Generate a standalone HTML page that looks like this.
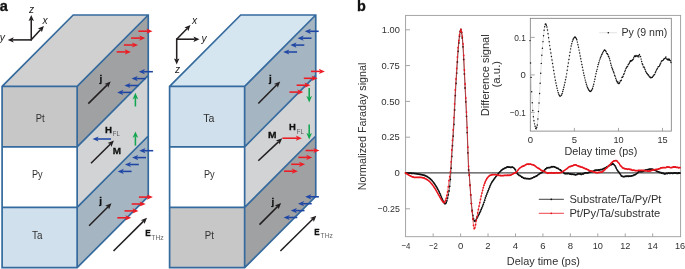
<!DOCTYPE html>
<html lang="en">
<head>
<meta charset="utf-8">
<title>Figure</title>
<style>
html,body{margin:0;padding:0;background:#ffffff;}
body{width:685px;height:269px;overflow:hidden;}
svg{display:block;}
text{font-family:"Liberation Sans",sans-serif;}
</style>
</head>
<body>
<svg width="685" height="269" viewBox="0 0 685 269">
<rect x="0" y="0" width="685" height="269" fill="#ffffff"/>
<g font-family='"Liberation Sans", sans-serif' fill="#303030">
<text x="-0.3" y="11.2" font-size="14" font-weight="bold" stroke="#111" stroke-width="0.3" fill="#111" textLength="8.1" lengthAdjust="spacingAndGlyphs">a</text>
<text x="357" y="11.2" font-size="13.8" font-weight="bold" stroke="#111" stroke-width="0.3" fill="#111" textLength="8.8" lengthAdjust="spacingAndGlyphs">b</text>
<polygon points="2.1,86.4 77.15,86.4 148.25,15 73.2,15" fill="#d0d0d0"/>
<rect x="2.1" y="86.4" width="75.05" height="60.4" fill="#c7c7c7"/>
<polygon points="77.15,86.4 148.25,15 148.25,75.4 77.15,146.8" fill="#a0a1a3"/>
<rect x="2.1" y="146.8" width="75.05" height="60.6" fill="#ffffff"/>
<polygon points="77.15,146.8 148.25,75.4 148.25,136 77.15,207.4" fill="#d1d3d4"/>
<rect x="2.1" y="207.4" width="75.05" height="60.3" fill="#d0e0ed"/>
<polygon points="77.15,207.4 148.25,136 148.25,196.3 77.15,267.7" fill="#a5b5c1"/>
<path d="M2.1,86.4 L73.2,15 L148.25,15 L148.25,196.3 L77.15,267.7 L2.1,267.7 Z M2.1,86.4 L77.15,86.4 L77.15,267.7 M77.15,86.4 L148.25,15 M2.1,146.8 L77.15,146.8 L148.25,75.4 M2.1,207.4 L77.15,207.4 L148.25,136" fill="none" stroke="#346a9e" stroke-width="1.7" stroke-linejoin="miter"/>
<polygon points="169.6,86.4 244.65,86.4 315.75,15 240.7,15" fill="#d5e6f1"/>
<rect x="169.6" y="86.4" width="75.05" height="60.4" fill="#d0e0ed"/>
<polygon points="244.65,86.4 315.75,15 315.75,75.4 244.65,146.8" fill="#a5b5c1"/>
<rect x="169.6" y="146.8" width="75.05" height="60.6" fill="#ffffff"/>
<polygon points="244.65,146.8 315.75,75.4 315.75,136 244.65,207.4" fill="#d1d3d4"/>
<rect x="169.6" y="207.4" width="75.05" height="60.3" fill="#c7c7c7"/>
<polygon points="244.65,207.4 315.75,136 315.75,196.3 244.65,267.7" fill="#a0a1a3"/>
<path d="M169.6,86.4 L240.7,15 L315.75,15 L315.75,196.3 L244.65,267.7 L169.6,267.7 Z M169.6,86.4 L244.65,86.4 L244.65,267.7 M244.65,86.4 L315.75,15 M169.6,146.8 L244.65,146.8 L315.75,75.4 M169.6,207.4 L244.65,207.4 L315.75,136" fill="none" stroke="#346a9e" stroke-width="1.7" stroke-linejoin="miter"/>
<text x="35.7" y="122.1" font-size="10.8" textLength="8.9" lengthAdjust="spacingAndGlyphs">Pt</text>
<text x="31.9" y="177.8" font-size="10.8" textLength="10.7" lengthAdjust="spacingAndGlyphs">Py</text>
<text x="32" y="238.7" font-size="10.8" textLength="10.4" lengthAdjust="spacingAndGlyphs">Ta</text>
<text x="203.2" y="122.3" font-size="10.8" textLength="11.2" lengthAdjust="spacingAndGlyphs">Ta</text>
<text x="203.9" y="177.8" font-size="10.8" textLength="10.7" lengthAdjust="spacingAndGlyphs">Py</text>
<text x="204.8" y="238.8" font-size="10.8" textLength="9.1" lengthAdjust="spacingAndGlyphs">Pt</text>
<line x1="31.25" y1="40.5" x2="31.25" y2="19.7" stroke="#231f20" stroke-width="1.55"/><polygon points="31.25,14.9 33.95,20.9 31.25,19.7 28.55,20.9" fill="#231f20"/>
<line x1="31.7" y1="39.9" x2="12.5" y2="39.9" stroke="#231f20" stroke-width="1.55"/><polygon points="7.7,39.9 13.7,37.2 12.5,39.9 13.7,42.6" fill="#231f20"/>
<line x1="31" y1="40.1" x2="40.66" y2="29.54" stroke="#231f20" stroke-width="1.55"/><polygon points="43.9,26 41.84,32.25 40.66,29.54 37.86,28.6" fill="#231f20"/>
<text x="29" y="13" font-size="10.3" font-style="italic" fill="#222">z</text>
<text x="42.4" y="23.8" font-size="10.3" font-style="italic" fill="#222">x</text>
<text x="-0.3" y="41" font-size="10.3" font-style="italic" fill="#222">y</text>
<line x1="176.7" y1="38.6" x2="176.7" y2="59.6" stroke="#231f20" stroke-width="1.55"/><polygon points="176.7,64.4 174,58.4 176.7,59.6 179.4,58.4" fill="#231f20"/>
<line x1="176.2" y1="39.2" x2="194.7" y2="39.2" stroke="#231f20" stroke-width="1.55"/><polygon points="199.5,39.2 193.5,41.9 194.7,39.2 193.5,36.5" fill="#231f20"/>
<line x1="176.4" y1="39.5" x2="187.15" y2="28.44" stroke="#231f20" stroke-width="1.55"/><polygon points="190.5,25 188.25,31.18 187.15,28.44 184.38,27.42" fill="#231f20"/>
<text x="191.9" y="23.7" font-size="10.3" font-style="italic" fill="#222">x</text>
<text x="201.6" y="41.6" font-size="10.3" font-style="italic" fill="#222">y</text>
<text x="175" y="72.8" font-size="10.3" font-style="italic" fill="#222">z</text>
<line x1="138.3" y1="31.2" x2="147.9" y2="31.2" stroke="#ed1c24" stroke-width="1.55"/><polygon points="152.5,31.2 146.4,33.8 147.9,31.2 146.4,28.6" fill="#ed1c24"/>
<line x1="131.1" y1="38.1" x2="140.7" y2="38.1" stroke="#ed1c24" stroke-width="1.55"/><polygon points="145.3,38.1 139.2,40.7 140.7,38.1 139.2,35.5" fill="#ed1c24"/>
<line x1="123.9" y1="45" x2="133.5" y2="45" stroke="#ed1c24" stroke-width="1.55"/><polygon points="138.1,45 132,47.6 133.5,45 132,42.4" fill="#ed1c24"/>
<line x1="116.7" y1="51.9" x2="126.3" y2="51.9" stroke="#ed1c24" stroke-width="1.55"/><polygon points="130.9,51.9 124.8,54.5 126.3,51.9 124.8,49.3" fill="#ed1c24"/>
<line x1="152.9" y1="71.7" x2="143.4" y2="71.7" stroke="#1f46a5" stroke-width="1.55"/><polygon points="138.8,71.7 144.9,69.1 143.4,71.7 144.9,74.3" fill="#1f46a5"/>
<line x1="145.7" y1="78.6" x2="136.2" y2="78.6" stroke="#1f46a5" stroke-width="1.55"/><polygon points="131.6,78.6 137.7,76 136.2,78.6 137.7,81.2" fill="#1f46a5"/>
<line x1="138.5" y1="85.5" x2="129" y2="85.5" stroke="#1f46a5" stroke-width="1.55"/><polygon points="124.4,85.5 130.5,82.9 129,85.5 130.5,88.1" fill="#1f46a5"/>
<line x1="131.3" y1="92.4" x2="121.8" y2="92.4" stroke="#1f46a5" stroke-width="1.55"/><polygon points="117.2,92.4 123.3,89.8 121.8,92.4 123.3,95" fill="#1f46a5"/>
<line x1="153.2" y1="150.7" x2="143.9" y2="150.7" stroke="#1f46a5" stroke-width="1.55"/><polygon points="139.3,150.7 145.4,148.1 143.9,150.7 145.4,153.3" fill="#1f46a5"/>
<line x1="146" y1="157.6" x2="136.7" y2="157.6" stroke="#1f46a5" stroke-width="1.55"/><polygon points="132.1,157.6 138.2,155 136.7,157.6 138.2,160.2" fill="#1f46a5"/>
<line x1="138.8" y1="164.5" x2="129.5" y2="164.5" stroke="#1f46a5" stroke-width="1.55"/><polygon points="124.9,164.5 131,161.9 129.5,164.5 131,167.1" fill="#1f46a5"/>
<line x1="131.6" y1="171.4" x2="122.3" y2="171.4" stroke="#1f46a5" stroke-width="1.55"/><polygon points="117.7,171.4 123.8,168.8 122.3,171.4 123.8,174" fill="#1f46a5"/>
<line x1="138.9" y1="197.1" x2="148.3" y2="197.1" stroke="#ed1c24" stroke-width="1.55"/><polygon points="152.9,197.1 146.8,199.7 148.3,197.1 146.8,194.5" fill="#ed1c24"/>
<line x1="131.7" y1="204" x2="141.1" y2="204" stroke="#ed1c24" stroke-width="1.55"/><polygon points="145.7,204 139.6,206.6 141.1,204 139.6,201.4" fill="#ed1c24"/>
<line x1="124.5" y1="210.9" x2="133.9" y2="210.9" stroke="#ed1c24" stroke-width="1.55"/><polygon points="138.5,210.9 132.4,213.5 133.9,210.9 132.4,208.3" fill="#ed1c24"/>
<line x1="117.3" y1="217.8" x2="126.7" y2="217.8" stroke="#ed1c24" stroke-width="1.55"/><polygon points="131.3,217.8 125.2,220.4 126.7,217.8 125.2,215.2" fill="#ed1c24"/>
<line x1="318.7" y1="31.3" x2="309.4" y2="31.3" stroke="#1f46a5" stroke-width="1.55"/><polygon points="304.8,31.3 310.9,28.7 309.4,31.3 310.9,33.9" fill="#1f46a5"/>
<line x1="311.5" y1="38.2" x2="302.2" y2="38.2" stroke="#1f46a5" stroke-width="1.55"/><polygon points="297.6,38.2 303.7,35.6 302.2,38.2 303.7,40.8" fill="#1f46a5"/>
<line x1="304.3" y1="45.1" x2="295" y2="45.1" stroke="#1f46a5" stroke-width="1.55"/><polygon points="290.4,45.1 296.5,42.5 295,45.1 296.5,47.7" fill="#1f46a5"/>
<line x1="297.1" y1="52" x2="287.8" y2="52" stroke="#1f46a5" stroke-width="1.55"/><polygon points="283.2,52 289.3,49.4 287.8,52 289.3,54.6" fill="#1f46a5"/>
<line x1="311" y1="71.4" x2="320.3" y2="71.4" stroke="#ed1c24" stroke-width="1.55"/><polygon points="324.9,71.4 318.8,74 320.3,71.4 318.8,68.8" fill="#ed1c24"/>
<line x1="303.8" y1="78.3" x2="313.1" y2="78.3" stroke="#ed1c24" stroke-width="1.55"/><polygon points="317.7,78.3 311.6,80.9 313.1,78.3 311.6,75.7" fill="#ed1c24"/>
<line x1="296.6" y1="85.2" x2="305.9" y2="85.2" stroke="#ed1c24" stroke-width="1.55"/><polygon points="310.5,85.2 304.4,87.8 305.9,85.2 304.4,82.6" fill="#ed1c24"/>
<line x1="289.4" y1="92.1" x2="298.7" y2="92.1" stroke="#ed1c24" stroke-width="1.55"/><polygon points="303.3,92.1 297.2,94.7 298.7,92.1 297.2,89.5" fill="#ed1c24"/>
<line x1="305.6" y1="150.5" x2="314.9" y2="150.5" stroke="#ed1c24" stroke-width="1.55"/><polygon points="319.5,150.5 313.4,153.1 314.9,150.5 313.4,147.9" fill="#ed1c24"/>
<line x1="298.4" y1="157.4" x2="307.7" y2="157.4" stroke="#ed1c24" stroke-width="1.55"/><polygon points="312.3,157.4 306.2,160 307.7,157.4 306.2,154.8" fill="#ed1c24"/>
<line x1="291.2" y1="164.3" x2="300.5" y2="164.3" stroke="#ed1c24" stroke-width="1.55"/><polygon points="305.1,164.3 299,166.9 300.5,164.3 299,161.7" fill="#ed1c24"/>
<line x1="284" y1="171.2" x2="293.3" y2="171.2" stroke="#ed1c24" stroke-width="1.55"/><polygon points="297.9,171.2 291.8,173.8 293.3,171.2 291.8,168.6" fill="#ed1c24"/>
<line x1="318.9" y1="196.8" x2="309.8" y2="196.8" stroke="#1f46a5" stroke-width="1.55"/><polygon points="305.2,196.8 311.3,194.2 309.8,196.8 311.3,199.4" fill="#1f46a5"/>
<line x1="311.7" y1="203.7" x2="302.6" y2="203.7" stroke="#1f46a5" stroke-width="1.55"/><polygon points="298,203.7 304.1,201.1 302.6,203.7 304.1,206.3" fill="#1f46a5"/>
<line x1="304.5" y1="210.6" x2="295.4" y2="210.6" stroke="#1f46a5" stroke-width="1.55"/><polygon points="290.8,210.6 296.9,208 295.4,210.6 296.9,213.2" fill="#1f46a5"/>
<line x1="297.3" y1="217.5" x2="288.2" y2="217.5" stroke="#1f46a5" stroke-width="1.55"/><polygon points="283.6,217.5 289.7,214.9 288.2,217.5 289.7,220.1" fill="#1f46a5"/>
<line x1="135.4" y1="106.5" x2="135.4" y2="97.7" stroke="#13a650" stroke-width="1.55"/><polygon points="135.4,92.8 138.2,99.2 135.4,97.7 132.6,99.2" fill="#13a650"/>
<line x1="135.4" y1="145.6" x2="135.4" y2="136.3" stroke="#13a650" stroke-width="1.55"/><polygon points="135.4,131.4 138.2,137.8 135.4,136.3 132.6,137.8" fill="#13a650"/>
<line x1="309.2" y1="88" x2="309.2" y2="97.5" stroke="#13a650" stroke-width="1.55"/><polygon points="309.2,102.4 306.4,96 309.2,97.5 312,96" fill="#13a650"/>
<line x1="309.2" y1="124.6" x2="309.2" y2="134.5" stroke="#13a650" stroke-width="1.55"/><polygon points="309.2,139.4 306.4,133 309.2,134.5 312,133" fill="#13a650"/>
<line x1="111" y1="139" x2="97.1" y2="139" stroke="#1f46a5" stroke-width="1.55"/><polygon points="92.5,139 98.6,136.4 97.1,139 98.6,141.6" fill="#1f46a5"/>
<line x1="282.4" y1="138.2" x2="297.3" y2="138.2" stroke="#ed1c24" stroke-width="1.55"/><polygon points="301.9,138.2 295.8,140.8 297.3,138.2 295.8,135.6" fill="#ed1c24"/>
<line x1="88.3" y1="103.6" x2="107.28" y2="84.87" stroke="#231f20" stroke-width="1.55"/><polygon points="110.7,81.5 108.18,87.78 107.28,84.87 104.39,83.93" fill="#231f20"/>
<line x1="91" y1="163.2" x2="110.48" y2="143.97" stroke="#231f20" stroke-width="1.55"/><polygon points="113.9,140.6 111.38,146.88 110.48,143.97 107.59,143.03" fill="#231f20"/>
<line x1="89.1" y1="225.8" x2="108.11" y2="206.7" stroke="#231f20" stroke-width="1.55"/><polygon points="111.5,203.3 109.04,209.6 108.11,206.7 105.21,205.79" fill="#231f20"/>
<line x1="113.5" y1="251" x2="143.6" y2="221.08" stroke="#231f20" stroke-width="1.55"/><polygon points="147,217.7 144.51,223.99 143.6,221.08 140.7,220.16" fill="#231f20"/>
<line x1="258.3" y1="103.5" x2="276.82" y2="84.81" stroke="#231f20" stroke-width="1.55"/><polygon points="280.2,81.4 277.75,87.7 276.82,84.81 273.92,83.9" fill="#231f20"/>
<line x1="258.3" y1="160.7" x2="278.7" y2="141.58" stroke="#231f20" stroke-width="1.55"/><polygon points="282.2,138.3 279.52,144.51 278.7,141.58 275.83,140.57" fill="#231f20"/>
<line x1="259.5" y1="224.6" x2="277.71" y2="206.39" stroke="#231f20" stroke-width="1.55"/><polygon points="281.1,203 278.63,209.29 277.71,206.39 274.81,205.47" fill="#231f20"/>
<line x1="280.4" y1="251" x2="312.88" y2="219.07" stroke="#231f20" stroke-width="1.55"/><polygon points="316.3,215.7 313.77,221.97 312.88,219.07 309.99,218.12" fill="#231f20"/>
<text x="99.4" y="81.6" font-size="9.7" font-weight="bold" stroke="#111" stroke-width="0.3" fill="#111">j</text>
<text x="99.2" y="204.2" font-size="9.7" font-weight="bold" stroke="#111" stroke-width="0.3" fill="#111">j</text>
<text x="269" y="81.9" font-size="9.7" font-weight="bold" stroke="#111" stroke-width="0.3" fill="#111">j</text>
<text x="271.5" y="204.5" font-size="9.7" font-weight="bold" stroke="#111" stroke-width="0.3" fill="#111">j</text>
<text x="112.7" y="153.6" font-size="9.7" font-weight="bold" stroke="#111" stroke-width="0.3" fill="#111" textLength="8.3" lengthAdjust="spacingAndGlyphs">M</text>
<text x="268.1" y="137.9" font-size="9.7" font-weight="bold" stroke="#111" stroke-width="0.3" fill="#111" textLength="8.5" lengthAdjust="spacingAndGlyphs">M</text>
<text x="105" y="133" font-size="9.7" font-weight="bold" stroke="#111" stroke-width="0.3" fill="#111" textLength="7" lengthAdjust="spacingAndGlyphs">H</text>
<text x="112.8" y="136.4" font-size="7" fill="#555" textLength="7" lengthAdjust="spacingAndGlyphs">FL</text>
<text x="289.1" y="129.8" font-size="9.7" font-weight="bold" stroke="#111" stroke-width="0.3" fill="#111" textLength="6.8" lengthAdjust="spacingAndGlyphs">H</text>
<text x="296.8" y="133.5" font-size="7" fill="#555" textLength="7" lengthAdjust="spacingAndGlyphs">FL</text>
<text x="145.2" y="236.2" font-size="9.7" font-weight="bold" stroke="#111" stroke-width="0.3" fill="#111" textLength="5.5" lengthAdjust="spacingAndGlyphs">E</text>
<text x="151.2" y="239.7" font-size="7.2" fill="#666" textLength="12.6" lengthAdjust="spacingAndGlyphs">THz</text>
<text x="314.3" y="234.7" font-size="9.7" font-weight="bold" stroke="#111" stroke-width="0.3" fill="#111" textLength="5.4" lengthAdjust="spacingAndGlyphs">E</text>
<text x="320.6" y="237.9" font-size="7.2" fill="#666" textLength="12.3" lengthAdjust="spacingAndGlyphs">THz</text>
<rect x="405.6" y="15.4" width="275" height="221.3" fill="none" stroke="#9c9c9c" stroke-width="0.9"/>
<path d="M433.16,236.7 v-3.3 M460.6,236.7 v-3.3 M488.04,236.7 v-3.3 M515.48,236.7 v-3.3 M542.92,236.7 v-3.3 M570.36,236.7 v-3.3 M597.8,236.7 v-3.3 M625.24,236.7 v-3.3 M652.68,236.7 v-3.3 M405.6,29.8 h4.4 M405.6,65.6 h4.4 M405.6,101.4 h4.4 M405.6,137.2 h4.4 M405.6,173 h4.4 M405.6,208.8 h4.4" stroke="#9c9c9c" stroke-width="0.9" fill="none"/>
<text x="405.92" y="248.8" font-size="9.3" text-anchor="middle" textLength="8.9" lengthAdjust="spacingAndGlyphs">−4</text>
<text x="433.36" y="248.8" font-size="9.3" text-anchor="middle" textLength="8.9" lengthAdjust="spacingAndGlyphs">−2</text>
<text x="460.6" y="248.8" font-size="9.3" text-anchor="middle" textLength="5.3" lengthAdjust="spacingAndGlyphs">0</text>
<text x="488.04" y="248.8" font-size="9.3" text-anchor="middle" textLength="5.3" lengthAdjust="spacingAndGlyphs">2</text>
<text x="515.48" y="248.8" font-size="9.3" text-anchor="middle" textLength="5.3" lengthAdjust="spacingAndGlyphs">4</text>
<text x="542.92" y="248.8" font-size="9.3" text-anchor="middle" textLength="5.3" lengthAdjust="spacingAndGlyphs">6</text>
<text x="570.36" y="248.8" font-size="9.3" text-anchor="middle" textLength="5.3" lengthAdjust="spacingAndGlyphs">8</text>
<text x="597.8" y="248.8" font-size="9.3" text-anchor="middle" textLength="10.2" lengthAdjust="spacingAndGlyphs">10</text>
<text x="625.24" y="248.8" font-size="9.3" text-anchor="middle" textLength="10.2" lengthAdjust="spacingAndGlyphs">12</text>
<text x="652.68" y="248.8" font-size="9.3" text-anchor="middle" textLength="10.2" lengthAdjust="spacingAndGlyphs">14</text>
<text x="680.12" y="248.8" font-size="9.3" text-anchor="middle" textLength="10.2" lengthAdjust="spacingAndGlyphs">16</text>
<text x="399.8" y="32.9" font-size="9.3" text-anchor="end" textLength="18" lengthAdjust="spacingAndGlyphs">1.00</text>
<text x="399.8" y="68.7" font-size="9.3" text-anchor="end" textLength="18.3" lengthAdjust="spacingAndGlyphs">0.75</text>
<text x="399.8" y="104.5" font-size="9.3" text-anchor="end" textLength="18.6" lengthAdjust="spacingAndGlyphs">0.50</text>
<text x="399.8" y="140.3" font-size="9.3" text-anchor="end" textLength="18.3" lengthAdjust="spacingAndGlyphs">0.25</text>
<text x="399.8" y="176.1" font-size="9.3" text-anchor="end" textLength="5.3" lengthAdjust="spacingAndGlyphs">0</text>
<text x="399.8" y="211.9" font-size="9.3" text-anchor="end" textLength="22.3" lengthAdjust="spacingAndGlyphs">−0.25</text>
<text x="506.8" y="264.9" font-size="10.8" textLength="73.2" lengthAdjust="spacingAndGlyphs">Delay time (ps)</text>
<text x="365.9" y="190.2" font-size="10.8" textLength="127.5" lengthAdjust="spacingAndGlyphs" transform="rotate(-90 365.9 190.2)">Normalized Faraday signal</text>
<line x1="405.6" y1="172.9" x2="680.6" y2="172.9" stroke="#4d4d4d" stroke-width="1.1"/>
<path d="M405.6,173 L406.3,173.03 L407,173.06 L407.7,173.09 L408.4,173.12 L409.1,173.15 L409.8,173.18 L410.5,173.21 L411.2,173.25 L411.9,173.29 L412.6,173.34 L413.3,173.41 L414,173.48 L414.7,173.55 L415.4,173.64 L416.1,173.73 L416.8,173.83 L417.5,173.93 L418.2,174.03 L418.9,174.14 L419.6,174.26 L420.3,174.39 L421,174.53 L421.7,174.68 L422.4,174.85 L423.1,175.03 L423.8,175.23 L424.5,175.45 L425.2,175.71 L425.9,175.99 L426.6,176.31 L427.3,176.66 L428,177.07 L428.7,177.56 L429.4,178.1 L430.1,178.68 L430.8,179.31 L431.5,179.99 L432.2,180.76 L432.9,181.61 L433.6,182.53 L434.3,183.49 L435,184.5 L435.7,185.56 L436.4,186.7 L437.1,187.91 L437.8,189.18 L438.5,190.51 L439.2,191.91 L439.9,193.49 L440.6,195.19 L441.3,196.9 L442,198.5 L442.7,200.03 L443.4,201.47 L444.1,202.65 L444.8,203.65 L445.5,203.61 L446.2,202.66 L446.9,200.85 L447.6,198.09 L448.3,194.87 L449,191 L449.7,186.36 L450.4,179.47 L451.1,168.15 L451.8,156.4 L452.5,145.65 L453.2,136.12 L453.9,124.49 L454.6,110 L455.3,95.62 L456,83.46 L456.7,73.02 L457.4,62 L458.1,51.32 L458.8,42.89 L459.5,36.29 L460.2,31.5 L460.9,29.49 L461.6,32.57 L462.3,38 L463,46.87 L463.7,59.5 L464.4,74 L465.1,88 L465.8,101.85 L466.5,116.33 L467.2,132.62 L467.9,152.8 L468.6,170 L469.3,175.01 L470,185.18 L470.7,194.92 L471.4,203.62 L472.1,210.26 L472.8,215.39 L473.5,218.82 L474.2,220.63 L474.9,221.3 L475.6,220.51 L476.3,219.3 L477,217.97 L477.7,216.63 L478.4,215.34 L479.1,214.01 L479.8,212.56 L480.5,211.04 L481.2,209.45 L481.9,207.79 L482.6,206.06 L483.3,204.26 L484,202.3 L484.7,200.13 L485.4,197.94 L486.1,195.93 L486.8,194.1 L487.5,192.37 L488.2,190.67 L488.9,188.95 L489.6,187.14 L490.3,185.38 L491,183.79 L491.7,182.49 L492.4,181.4 L493.1,180.39 L493.8,179.4 L494.5,178.47 L495.2,177.54 L495.9,176.62 L496.6,175.77 L497.3,174.87 L498,174 L498.7,173.11 L499.4,172.36 L500.1,171.53 L500.8,170.93 L501.5,170.22 L502.2,169.65 L502.9,169.18 L503.6,168.81 L504.3,168.42 L505,168.03 L505.7,167.77 L506.4,167.5 L507.1,167.01 L507.8,166.97 L508.5,167.15 L509.2,167.06 L509.9,167.06 L510.6,167.41 L511.3,167.34 L512,167.19 L512.7,167.16 L513.4,167.54 L514.1,168.08 L514.8,168.93 L515.5,169.99 L516.2,171.8 L516.9,172.92 L517.6,173.9 L518.3,174.48 L519,175.34 L519.7,175.48 L520.4,175.89 L521.1,176.36 L521.8,177.14 L522.5,177.22 L523.2,177.85 L523.9,178.19 L524.6,178.46 L525.3,178.27 L526,178.59 L526.7,178.71 L527.4,178.69 L528.1,178.64 L528.8,178.79 L529.5,178.83 L530.2,178.71 L530.9,178.58 L531.6,178.34 L532.3,177.99 L533,177.55 L533.7,177.21 L534.4,177.04 L535.1,176.55 L535.8,176.3 L536.5,175.94 L537.2,175.61 L537.9,174.82 L538.6,174.46 L539.3,173.86 L540,173.41 L540.7,173.04 L541.4,172.74 L542.1,172.26 L542.8,171.59 L543.5,171.22 L544.2,170.38 L544.9,169.74 L545.6,168.98 L546.3,168.53 L547,167.72 L547.7,167.83 L548.4,167.73 L549.1,167.53 L549.8,167.58 L550.5,167.43 L551.2,166.77 L551.9,166.75 L552.6,166.87 L553.3,166.55 L554,166.78 L554.7,167 L555.4,167.27 L556.1,167.51 L556.8,168.11 L557.5,168.29 L558.2,168.47 L558.9,169.09 L559.6,169.56 L560.3,169.97 L561,170.47 L561.7,171.22 L562.4,171.55 L563.1,172.23 L563.8,172.78 L564.5,173.42 L565.2,173.68 L565.9,173.7 L566.6,173.69 L567.3,173.67 L568,173.32 L568.7,173.57 L569.4,173.78 L570.1,174 L570.8,174.18 L571.5,174.28 L572.2,174.08 L572.9,174.27 L573.6,174.43 L574.3,174.38 L575,174.85 L575.7,174.79 L576.4,174.62 L577.1,174.43 L577.8,173.99 L578.5,173.87 L579.2,173.98 L579.9,173.77 L580.6,174 L581.3,174.39 L582,174.1 L582.7,173.88 L583.4,173.95 L584.1,173.34 L584.8,173.24 L585.5,172.97 L586.2,172.9 L586.9,172.87 L587.6,172.93 L588.3,172.63 L589,172.48 L589.7,172.11 L590.4,171.81 L591.1,171.78 L591.8,171.65 L592.5,171.54 L593.2,171.34 L593.9,170.93 L594.6,170.36 L595.3,170.3 L596,170.03 L596.7,170.26 L597.4,170.19 L598.1,170.24 L598.8,169.99 L599.5,170.03 L600.2,169.71 L600.9,169.7 L601.6,169.59 L602.3,169.41 L603,168.91 L603.7,168.65 L604.4,168.28 L605.1,167.92 L605.8,167.58 L606.5,167.24 L607.2,166.81 L607.9,166.32 L608.6,165.88 L609.3,165.43 L610,164.98 L610.7,164.7 L611.4,164.66 L612.1,164.13 L612.8,163.82 L613.5,164.19 L614.2,164.81 L614.9,165.62 L615.6,166.87 L616.3,168.23 L617,169.68 L617.7,170.65 L618.4,171.52 L619.1,172.44 L619.8,173.59 L620.5,174.32 L621.2,175.63 L621.9,176.14 L622.6,176.48 L623.3,176.55 L624,176.78 L624.7,176.41 L625.4,176.4 L626.1,176.24 L626.8,176.26 L627.5,176.16 L628.2,176.25 L628.9,176.26 L629.6,176.13 L630.3,176.11 L631,176.02 L631.7,175.89 L632.4,175.6 L633.1,175.62 L633.8,175.07 L634.5,174.85 L635.2,174.65 L635.9,174.24 L636.6,173.53 L637.3,173.12 L638,172.51 L638.7,171.73 L639.4,171.48 L640.1,171.65 L640.8,171.56 L641.5,171.64 L642.2,171.6 L642.9,171.36 L643.6,170.89 L644.3,170.68 L645,170.44 L645.7,170.03 L646.4,169.9 L647.1,169.81 L647.8,169.59 L648.5,169.46 L649.2,169.41 L649.9,169.14 L650.6,169.07 L651.3,169.19 L652,169.19 L652.7,169.42 L653.4,169.68 L654.1,170.05 L654.8,170.06 L655.5,170.42 L656.2,170.78 L656.9,171.28 L657.6,171.56 L658.3,171.77 L659,172.1 L659.7,172.43 L660.4,172.51 L661.1,172.51 L661.8,173.14 L662.5,173.11 L663.2,173.42 L663.9,173.57 L664.6,173.98 L665.3,173.77 L666,173.6 L666.7,173.46 L667.4,173.52 L668.1,173.23 L668.8,173.14 L669.5,173.33 L670.2,173.33 L670.9,173.18 L671.6,173.17 L672.3,173.36 L673,173.28 L673.7,173.11 L674.4,172.93 L675.1,173.17 L675.8,173.11 L676.5,173.29 L677.2,173.2 L677.9,173.49 L678.6,172.96 L679.3,173.13 L680,173.04" fill="none" stroke="#111111" stroke-width="0.62" stroke-linejoin="round"/>
<path d="M405.6,173h0M406.3,173.03h0M407,173.06h0M407.7,173.09h0M408.4,173.12h0M409.1,173.15h0M409.8,173.18h0M410.5,173.21h0M411.2,173.25h0M411.9,173.29h0M412.6,173.34h0M413.3,173.41h0M414,173.48h0M414.7,173.55h0M415.4,173.64h0M416.1,173.73h0M416.8,173.83h0M417.5,173.93h0M418.2,174.03h0M418.9,174.14h0M419.6,174.26h0M420.3,174.39h0M421,174.53h0M421.7,174.68h0M422.4,174.85h0M423.1,175.03h0M423.8,175.23h0M424.5,175.45h0M425.2,175.71h0M425.9,175.99h0M426.6,176.31h0M427.3,176.66h0M428,177.07h0M428.7,177.56h0M429.4,178.1h0M430.1,178.68h0M430.8,179.31h0M431.5,179.99h0M432.2,180.76h0M432.9,181.61h0M433.6,182.53h0M434.3,183.49h0M435,184.5h0M435.7,185.56h0M436.4,186.7h0M437.1,187.91h0M437.8,189.18h0M438.5,190.51h0M439.2,191.91h0M439.9,193.49h0M440.6,195.19h0M441.3,196.9h0M442,198.5h0M442.7,200.03h0M443.4,201.47h0M444.1,202.65h0M444.8,203.65h0M445.5,203.61h0M446.2,202.66h0M446.9,200.85h0M447.6,198.09h0M448.3,194.87h0M449,191h0M449.7,186.36h0M450.4,179.47h0M451.1,168.15h0M451.8,156.4h0M452.5,145.65h0M453.2,136.12h0M453.9,124.49h0M454.6,110h0M455.3,95.62h0M456,83.46h0M456.7,73.02h0M457.4,62h0M458.1,51.32h0M458.8,42.89h0M459.5,36.29h0M460.2,31.5h0M460.9,29.49h0M461.6,32.57h0M462.3,38h0M463,46.87h0M463.7,59.5h0M464.4,74h0M465.1,88h0M465.8,101.85h0M466.5,116.33h0M467.2,132.62h0M467.9,152.8h0M468.6,170h0M469.3,175.01h0M470,185.18h0M470.7,194.92h0M471.4,203.62h0M472.1,210.26h0M472.8,215.39h0M473.5,218.82h0M474.2,220.63h0M474.9,221.3h0M475.6,220.51h0M476.3,219.3h0M477,217.97h0M477.7,216.63h0M478.4,215.34h0M479.1,214.01h0M479.8,212.56h0M480.5,211.04h0M481.2,209.45h0M481.9,207.79h0M482.6,206.06h0M483.3,204.26h0M484,202.3h0M484.7,200.13h0M485.4,197.94h0M486.1,195.93h0M486.8,194.1h0M487.5,192.37h0M488.2,190.67h0M488.9,188.95h0M489.6,187.14h0M490.3,185.38h0M491,183.79h0M491.7,182.49h0M492.4,181.4h0M493.1,180.39h0M493.8,179.4h0M494.5,178.47h0M495.2,177.54h0M495.9,176.62h0M496.6,175.77h0M497.3,174.87h0M498,174h0M498.7,173.11h0M499.4,172.36h0M500.1,171.53h0M500.8,170.93h0M501.5,170.22h0M502.2,169.65h0M502.9,169.18h0M503.6,168.81h0M504.3,168.42h0M505,168.03h0M505.7,167.77h0M506.4,167.5h0M507.1,167.01h0M507.8,166.97h0M508.5,167.15h0M509.2,167.06h0M509.9,167.06h0M510.6,167.41h0M511.3,167.34h0M512,167.19h0M512.7,167.16h0M513.4,167.54h0M514.1,168.08h0M514.8,168.93h0M515.5,169.99h0M516.2,171.8h0M516.9,172.92h0M517.6,173.9h0M518.3,174.48h0M519,175.34h0M519.7,175.48h0M520.4,175.89h0M521.1,176.36h0M521.8,177.14h0M522.5,177.22h0M523.2,177.85h0M523.9,178.19h0M524.6,178.46h0M525.3,178.27h0M526,178.59h0M526.7,178.71h0M527.4,178.69h0M528.1,178.64h0M528.8,178.79h0M529.5,178.83h0M530.2,178.71h0M530.9,178.58h0M531.6,178.34h0M532.3,177.99h0M533,177.55h0M533.7,177.21h0M534.4,177.04h0M535.1,176.55h0M535.8,176.3h0M536.5,175.94h0M537.2,175.61h0M537.9,174.82h0M538.6,174.46h0M539.3,173.86h0M540,173.41h0M540.7,173.04h0M541.4,172.74h0M542.1,172.26h0M542.8,171.59h0M543.5,171.22h0M544.2,170.38h0M544.9,169.74h0M545.6,168.98h0M546.3,168.53h0M547,167.72h0M547.7,167.83h0M548.4,167.73h0M549.1,167.53h0M549.8,167.58h0M550.5,167.43h0M551.2,166.77h0M551.9,166.75h0M552.6,166.87h0M553.3,166.55h0M554,166.78h0M554.7,167h0M555.4,167.27h0M556.1,167.51h0M556.8,168.11h0M557.5,168.29h0M558.2,168.47h0M558.9,169.09h0M559.6,169.56h0M560.3,169.97h0M561,170.47h0M561.7,171.22h0M562.4,171.55h0M563.1,172.23h0M563.8,172.78h0M564.5,173.42h0M565.2,173.68h0M565.9,173.7h0M566.6,173.69h0M567.3,173.67h0M568,173.32h0M568.7,173.57h0M569.4,173.78h0M570.1,174h0M570.8,174.18h0M571.5,174.28h0M572.2,174.08h0M572.9,174.27h0M573.6,174.43h0M574.3,174.38h0M575,174.85h0M575.7,174.79h0M576.4,174.62h0M577.1,174.43h0M577.8,173.99h0M578.5,173.87h0M579.2,173.98h0M579.9,173.77h0M580.6,174h0M581.3,174.39h0M582,174.1h0M582.7,173.88h0M583.4,173.95h0M584.1,173.34h0M584.8,173.24h0M585.5,172.97h0M586.2,172.9h0M586.9,172.87h0M587.6,172.93h0M588.3,172.63h0M589,172.48h0M589.7,172.11h0M590.4,171.81h0M591.1,171.78h0M591.8,171.65h0M592.5,171.54h0M593.2,171.34h0M593.9,170.93h0M594.6,170.36h0M595.3,170.3h0M596,170.03h0M596.7,170.26h0M597.4,170.19h0M598.1,170.24h0M598.8,169.99h0M599.5,170.03h0M600.2,169.71h0M600.9,169.7h0M601.6,169.59h0M602.3,169.41h0M603,168.91h0M603.7,168.65h0M604.4,168.28h0M605.1,167.92h0M605.8,167.58h0M606.5,167.24h0M607.2,166.81h0M607.9,166.32h0M608.6,165.88h0M609.3,165.43h0M610,164.98h0M610.7,164.7h0M611.4,164.66h0M612.1,164.13h0M612.8,163.82h0M613.5,164.19h0M614.2,164.81h0M614.9,165.62h0M615.6,166.87h0M616.3,168.23h0M617,169.68h0M617.7,170.65h0M618.4,171.52h0M619.1,172.44h0M619.8,173.59h0M620.5,174.32h0M621.2,175.63h0M621.9,176.14h0M622.6,176.48h0M623.3,176.55h0M624,176.78h0M624.7,176.41h0M625.4,176.4h0M626.1,176.24h0M626.8,176.26h0M627.5,176.16h0M628.2,176.25h0M628.9,176.26h0M629.6,176.13h0M630.3,176.11h0M631,176.02h0M631.7,175.89h0M632.4,175.6h0M633.1,175.62h0M633.8,175.07h0M634.5,174.85h0M635.2,174.65h0M635.9,174.24h0M636.6,173.53h0M637.3,173.12h0M638,172.51h0M638.7,171.73h0M639.4,171.48h0M640.1,171.65h0M640.8,171.56h0M641.5,171.64h0M642.2,171.6h0M642.9,171.36h0M643.6,170.89h0M644.3,170.68h0M645,170.44h0M645.7,170.03h0M646.4,169.9h0M647.1,169.81h0M647.8,169.59h0M648.5,169.46h0M649.2,169.41h0M649.9,169.14h0M650.6,169.07h0M651.3,169.19h0M652,169.19h0M652.7,169.42h0M653.4,169.68h0M654.1,170.05h0M654.8,170.06h0M655.5,170.42h0M656.2,170.78h0M656.9,171.28h0M657.6,171.56h0M658.3,171.77h0M659,172.1h0M659.7,172.43h0M660.4,172.51h0M661.1,172.51h0M661.8,173.14h0M662.5,173.11h0M663.2,173.42h0M663.9,173.57h0M664.6,173.98h0M665.3,173.77h0M666,173.6h0M666.7,173.46h0M667.4,173.52h0M668.1,173.23h0M668.8,173.14h0M669.5,173.33h0M670.2,173.33h0M670.9,173.18h0M671.6,173.17h0M672.3,173.36h0M673,173.28h0M673.7,173.11h0M674.4,172.93h0M675.1,173.17h0M675.8,173.11h0M676.5,173.29h0M677.2,173.2h0M677.9,173.49h0M678.6,172.96h0M679.3,173.13h0M680,173.04h0" fill="none" stroke="#111111" stroke-width="1.76" stroke-linecap="round"/>
<path d="M405.6,173 L406.3,173.44 L407,173.89 L407.7,174.32 L408.4,174.74 L409.1,175.17 L409.8,175.59 L410.5,175.97 L411.2,176.28 L411.9,176.59 L412.6,176.9 L413.3,177.17 L414,177.37 L414.7,177.49 L415.4,177.49 L416.1,177.46 L416.8,177.41 L417.5,177.36 L418.2,177.32 L418.9,177.3 L419.6,177.32 L420.3,177.37 L421,177.45 L421.7,177.56 L422.4,177.69 L423.1,177.82 L423.8,178 L424.5,178.25 L425.2,178.55 L425.9,178.9 L426.6,179.27 L427.3,179.68 L428,180.17 L428.7,180.74 L429.4,181.37 L430.1,182.06 L430.8,182.79 L431.5,183.56 L432.2,184.43 L432.9,185.37 L433.6,186.38 L434.3,187.43 L435,188.5 L435.7,189.63 L436.4,190.84 L437.1,192.1 L437.8,193.37 L438.5,194.63 L439.2,195.84 L439.9,197.08 L440.6,198.32 L441.3,199.48 L442,200.5 L442.7,201.52 L443.4,202.37 L444.1,202.55 L444.8,201.78 L445.5,200.5 L446.2,198.41 L446.9,195.44 L447.6,191.89 L448.3,186.83 L449,180.72 L449.7,176.74 L450.4,172.06 L451.1,161.82 L451.8,150 L452.5,140.21 L453.2,130 L453.9,117.61 L454.6,103.98 L455.3,90 L456,78.93 L456.7,68.44 L457.4,57.07 L458.1,47.65 L458.8,40.52 L459.5,34.97 L460.2,31.08 L460.9,29.47 L461.6,31.94 L462.3,36.34 L463,43.88 L463.7,55.41 L464.4,70 L465.1,84 L465.8,97.9 L466.5,112.1 L467.2,127.55 L467.9,147.24 L468.6,166.27 L469.3,175.47 L470,185.43 L470.7,194.86 L471.4,203.48 L472.1,211.61 L472.8,219 L473.5,225.28 L474.2,228.71 L474.9,227.76 L475.6,224.63 L476.3,220.56 L477,216.58 L477.7,212.96 L478.4,209.44 L479.1,206.02 L479.8,202.67 L480.5,199.34 L481.2,196.11 L481.9,193.1 L482.6,190.33 L483.3,187.66 L484,185.23 L484.7,183.2 L485.4,181.5 L486.1,179.99 L486.8,178.73 L487.5,177.74 L488.2,176.87 L488.9,176.13 L489.6,175.59 L490.3,175.3 L491,175.08 L491.7,174.89 L492.4,174.73 L493.1,174.59 L493.8,174.55 L494.5,174.56 L495.2,174.58 L495.9,174.68 L496.6,174.86 L497.3,174.99 L498,175.16 L498.7,175.29 L499.4,175.4 L500.1,175.5 L500.8,175.7 L501.5,175.74 L502.2,175.61 L502.9,175.64 L503.6,175.55 L504.3,175.43 L505,175.38 L505.7,175.38 L506.4,175.41 L507.1,175.44 L507.8,175.24 L508.5,175.35 L509.2,175.41 L509.9,175.05 L510.6,175.01 L511.3,174.86 L512,174.34 L512.7,174.06 L513.4,173.66 L514.1,173.17 L514.8,172.91 L515.5,172.77 L516.2,172.14 L516.9,171.52 L517.6,170.51 L518.3,169.67 L519,168.8 L519.7,168.12 L520.4,167.57 L521.1,167.02 L521.8,166.66 L522.5,166.32 L523.2,166.15 L523.9,165.78 L524.6,165.61 L525.3,164.81 L526,164.67 L526.7,164.27 L527.4,164.22 L528.1,164.02 L528.8,164.28 L529.5,164.11 L530.2,164.17 L530.9,164.16 L531.6,164.51 L532.3,164.7 L533,164.8 L533.7,165.12 L534.4,165.44 L535.1,165.88 L535.8,166.45 L536.5,167.11 L537.2,167.52 L537.9,168.09 L538.6,168.4 L539.3,168.68 L540,169.21 L540.7,169.89 L541.4,170.28 L542.1,170.55 L542.8,170.92 L543.5,170.98 L544.2,171.37 L544.9,171.72 L545.6,172.33 L546.3,172.61 L547,172.92 L547.7,173.3 L548.4,173.24 L549.1,172.99 L549.8,172.92 L550.5,173.07 L551.2,172.75 L551.9,172.86 L552.6,172.9 L553.3,173.21 L554,173.05 L554.7,172.94 L555.4,172.95 L556.1,172.94 L556.8,172.63 L557.5,172.82 L558.2,172.84 L558.9,172.78 L559.6,172.76 L560.3,172.66 L561,172.44 L561.7,172.31 L562.4,171.88 L563.1,171.32 L563.8,170.82 L564.5,170.32 L565.2,169.79 L565.9,169.37 L566.6,168.78 L567.3,168.47 L568,167.69 L568.7,167.1 L569.4,166.7 L570.1,166.67 L570.8,166.26 L571.5,166.09 L572.2,165.97 L572.9,165.7 L573.6,165.24 L574.3,165.03 L575,164.93 L575.7,164.99 L576.4,165.07 L577.1,165.53 L577.8,165.78 L578.5,166.14 L579.2,166.41 L579.9,166.7 L580.6,166.75 L581.3,167.13 L582,167.22 L582.7,167.43 L583.4,167.84 L584.1,168.2 L584.8,168.46 L585.5,168.77 L586.2,168.99 L586.9,169.22 L587.6,169.63 L588.3,169.96 L589,170.32 L589.7,170.71 L590.4,170.99 L591.1,171.24 L591.8,171.19 L592.5,171.41 L593.2,171.84 L593.9,171.8 L594.6,172.02 L595.3,172.34 L596,172.74 L596.7,172.57 L597.4,172.85 L598.1,172.49 L598.8,172.5 L599.5,172.41 L600.2,172.16 L600.9,172.14 L601.6,172.12 L602.3,171.89 L603,170.99 L603.7,170.86 L604.4,169.99 L605.1,169.38 L605.8,168.57 L606.5,168.16 L607.2,167.43 L607.9,166.69 L608.6,166.05 L609.3,165.37 L610,164.74 L610.7,163.63 L611.4,162.81 L612.1,162.18 L612.8,161.63 L613.5,161.22 L614.2,160.89 L614.9,160.8 L615.6,160.74 L616.3,160.75 L617,160.97 L617.7,161.86 L618.4,162.54 L619.1,163.3 L619.8,164.53 L620.5,165.66 L621.2,166.25 L621.9,166.89 L622.6,167.8 L623.3,168.23 L624,168.41 L624.7,168.63 L625.4,168.97 L626.1,168.86 L626.8,168.99 L627.5,169.3 L628.2,169.04 L628.9,169.05 L629.6,169.33 L630.3,169.52 L631,169.47 L631.7,169.92 L632.4,170.26 L633.1,170.16 L633.8,170.07 L634.5,170.48 L635.2,170.57 L635.9,170.57 L636.6,170.65 L637.3,170.78 L638,170.43 L638.7,170.41 L639.4,170.52 L640.1,170.4 L640.8,170.47 L641.5,170.47 L642.2,170.58 L642.9,170.43 L643.6,170.38 L644.3,170.52 L645,170.67 L645.7,170.86 L646.4,170.72 L647.1,171.06 L647.8,171.19 L648.5,171.21 L649.2,170.91 L649.9,171.07 L650.6,170.9 L651.3,170.47 L652,170.32 L652.7,170.21 L653.4,170.07 L654.1,169.86 L654.8,169.63 L655.5,169.6 L656.2,169.47 L656.9,169.57 L657.6,169.37 L658.3,169.19 L659,168.81 L659.7,168.72 L660.4,168.08 L661.1,167.78 L661.8,167.95 L662.5,167.71 L663.2,167.73 L663.9,167.73 L664.6,167.64 L665.3,167.52 L666,167.54 L666.7,167.07 L667.4,166.96 L668.1,167.21 L668.8,167.03 L669.5,167.16 L670.2,167.56 L670.9,167.6 L671.6,167.51 L672.3,167.43 L673,167.16 L673.7,166.94 L674.4,167.18 L675.1,166.93 L675.8,167.2 L676.5,167.49 L677.2,167.43 L677.9,167.27 L678.6,167.82 L679.3,167.6 L680,167.73" fill="none" stroke="#e8141c" stroke-width="0.62" stroke-linejoin="round"/>
<path d="M405.6,173h0M406.3,173.44h0M407,173.89h0M407.7,174.32h0M408.4,174.74h0M409.1,175.17h0M409.8,175.59h0M410.5,175.97h0M411.2,176.28h0M411.9,176.59h0M412.6,176.9h0M413.3,177.17h0M414,177.37h0M414.7,177.49h0M415.4,177.49h0M416.1,177.46h0M416.8,177.41h0M417.5,177.36h0M418.2,177.32h0M418.9,177.3h0M419.6,177.32h0M420.3,177.37h0M421,177.45h0M421.7,177.56h0M422.4,177.69h0M423.1,177.82h0M423.8,178h0M424.5,178.25h0M425.2,178.55h0M425.9,178.9h0M426.6,179.27h0M427.3,179.68h0M428,180.17h0M428.7,180.74h0M429.4,181.37h0M430.1,182.06h0M430.8,182.79h0M431.5,183.56h0M432.2,184.43h0M432.9,185.37h0M433.6,186.38h0M434.3,187.43h0M435,188.5h0M435.7,189.63h0M436.4,190.84h0M437.1,192.1h0M437.8,193.37h0M438.5,194.63h0M439.2,195.84h0M439.9,197.08h0M440.6,198.32h0M441.3,199.48h0M442,200.5h0M442.7,201.52h0M443.4,202.37h0M444.1,202.55h0M444.8,201.78h0M445.5,200.5h0M446.2,198.41h0M446.9,195.44h0M447.6,191.89h0M448.3,186.83h0M449,180.72h0M449.7,176.74h0M450.4,172.06h0M451.1,161.82h0M451.8,150h0M452.5,140.21h0M453.2,130h0M453.9,117.61h0M454.6,103.98h0M455.3,90h0M456,78.93h0M456.7,68.44h0M457.4,57.07h0M458.1,47.65h0M458.8,40.52h0M459.5,34.97h0M460.2,31.08h0M460.9,29.47h0M461.6,31.94h0M462.3,36.34h0M463,43.88h0M463.7,55.41h0M464.4,70h0M465.1,84h0M465.8,97.9h0M466.5,112.1h0M467.2,127.55h0M467.9,147.24h0M468.6,166.27h0M469.3,175.47h0M470,185.43h0M470.7,194.86h0M471.4,203.48h0M472.1,211.61h0M472.8,219h0M473.5,225.28h0M474.2,228.71h0M474.9,227.76h0M475.6,224.63h0M476.3,220.56h0M477,216.58h0M477.7,212.96h0M478.4,209.44h0M479.1,206.02h0M479.8,202.67h0M480.5,199.34h0M481.2,196.11h0M481.9,193.1h0M482.6,190.33h0M483.3,187.66h0M484,185.23h0M484.7,183.2h0M485.4,181.5h0M486.1,179.99h0M486.8,178.73h0M487.5,177.74h0M488.2,176.87h0M488.9,176.13h0M489.6,175.59h0M490.3,175.3h0M491,175.08h0M491.7,174.89h0M492.4,174.73h0M493.1,174.59h0M493.8,174.55h0M494.5,174.56h0M495.2,174.58h0M495.9,174.68h0M496.6,174.86h0M497.3,174.99h0M498,175.16h0M498.7,175.29h0M499.4,175.4h0M500.1,175.5h0M500.8,175.7h0M501.5,175.74h0M502.2,175.61h0M502.9,175.64h0M503.6,175.55h0M504.3,175.43h0M505,175.38h0M505.7,175.38h0M506.4,175.41h0M507.1,175.44h0M507.8,175.24h0M508.5,175.35h0M509.2,175.41h0M509.9,175.05h0M510.6,175.01h0M511.3,174.86h0M512,174.34h0M512.7,174.06h0M513.4,173.66h0M514.1,173.17h0M514.8,172.91h0M515.5,172.77h0M516.2,172.14h0M516.9,171.52h0M517.6,170.51h0M518.3,169.67h0M519,168.8h0M519.7,168.12h0M520.4,167.57h0M521.1,167.02h0M521.8,166.66h0M522.5,166.32h0M523.2,166.15h0M523.9,165.78h0M524.6,165.61h0M525.3,164.81h0M526,164.67h0M526.7,164.27h0M527.4,164.22h0M528.1,164.02h0M528.8,164.28h0M529.5,164.11h0M530.2,164.17h0M530.9,164.16h0M531.6,164.51h0M532.3,164.7h0M533,164.8h0M533.7,165.12h0M534.4,165.44h0M535.1,165.88h0M535.8,166.45h0M536.5,167.11h0M537.2,167.52h0M537.9,168.09h0M538.6,168.4h0M539.3,168.68h0M540,169.21h0M540.7,169.89h0M541.4,170.28h0M542.1,170.55h0M542.8,170.92h0M543.5,170.98h0M544.2,171.37h0M544.9,171.72h0M545.6,172.33h0M546.3,172.61h0M547,172.92h0M547.7,173.3h0M548.4,173.24h0M549.1,172.99h0M549.8,172.92h0M550.5,173.07h0M551.2,172.75h0M551.9,172.86h0M552.6,172.9h0M553.3,173.21h0M554,173.05h0M554.7,172.94h0M555.4,172.95h0M556.1,172.94h0M556.8,172.63h0M557.5,172.82h0M558.2,172.84h0M558.9,172.78h0M559.6,172.76h0M560.3,172.66h0M561,172.44h0M561.7,172.31h0M562.4,171.88h0M563.1,171.32h0M563.8,170.82h0M564.5,170.32h0M565.2,169.79h0M565.9,169.37h0M566.6,168.78h0M567.3,168.47h0M568,167.69h0M568.7,167.1h0M569.4,166.7h0M570.1,166.67h0M570.8,166.26h0M571.5,166.09h0M572.2,165.97h0M572.9,165.7h0M573.6,165.24h0M574.3,165.03h0M575,164.93h0M575.7,164.99h0M576.4,165.07h0M577.1,165.53h0M577.8,165.78h0M578.5,166.14h0M579.2,166.41h0M579.9,166.7h0M580.6,166.75h0M581.3,167.13h0M582,167.22h0M582.7,167.43h0M583.4,167.84h0M584.1,168.2h0M584.8,168.46h0M585.5,168.77h0M586.2,168.99h0M586.9,169.22h0M587.6,169.63h0M588.3,169.96h0M589,170.32h0M589.7,170.71h0M590.4,170.99h0M591.1,171.24h0M591.8,171.19h0M592.5,171.41h0M593.2,171.84h0M593.9,171.8h0M594.6,172.02h0M595.3,172.34h0M596,172.74h0M596.7,172.57h0M597.4,172.85h0M598.1,172.49h0M598.8,172.5h0M599.5,172.41h0M600.2,172.16h0M600.9,172.14h0M601.6,172.12h0M602.3,171.89h0M603,170.99h0M603.7,170.86h0M604.4,169.99h0M605.1,169.38h0M605.8,168.57h0M606.5,168.16h0M607.2,167.43h0M607.9,166.69h0M608.6,166.05h0M609.3,165.37h0M610,164.74h0M610.7,163.63h0M611.4,162.81h0M612.1,162.18h0M612.8,161.63h0M613.5,161.22h0M614.2,160.89h0M614.9,160.8h0M615.6,160.74h0M616.3,160.75h0M617,160.97h0M617.7,161.86h0M618.4,162.54h0M619.1,163.3h0M619.8,164.53h0M620.5,165.66h0M621.2,166.25h0M621.9,166.89h0M622.6,167.8h0M623.3,168.23h0M624,168.41h0M624.7,168.63h0M625.4,168.97h0M626.1,168.86h0M626.8,168.99h0M627.5,169.3h0M628.2,169.04h0M628.9,169.05h0M629.6,169.33h0M630.3,169.52h0M631,169.47h0M631.7,169.92h0M632.4,170.26h0M633.1,170.16h0M633.8,170.07h0M634.5,170.48h0M635.2,170.57h0M635.9,170.57h0M636.6,170.65h0M637.3,170.78h0M638,170.43h0M638.7,170.41h0M639.4,170.52h0M640.1,170.4h0M640.8,170.47h0M641.5,170.47h0M642.2,170.58h0M642.9,170.43h0M643.6,170.38h0M644.3,170.52h0M645,170.67h0M645.7,170.86h0M646.4,170.72h0M647.1,171.06h0M647.8,171.19h0M648.5,171.21h0M649.2,170.91h0M649.9,171.07h0M650.6,170.9h0M651.3,170.47h0M652,170.32h0M652.7,170.21h0M653.4,170.07h0M654.1,169.86h0M654.8,169.63h0M655.5,169.6h0M656.2,169.47h0M656.9,169.57h0M657.6,169.37h0M658.3,169.19h0M659,168.81h0M659.7,168.72h0M660.4,168.08h0M661.1,167.78h0M661.8,167.95h0M662.5,167.71h0M663.2,167.73h0M663.9,167.73h0M664.6,167.64h0M665.3,167.52h0M666,167.54h0M666.7,167.07h0M667.4,166.96h0M668.1,167.21h0M668.8,167.03h0M669.5,167.16h0M670.2,167.56h0M670.9,167.6h0M671.6,167.51h0M672.3,167.43h0M673,167.16h0M673.7,166.94h0M674.4,167.18h0M675.1,166.93h0M675.8,167.2h0M676.5,167.49h0M677.2,167.43h0M677.9,167.27h0M678.6,167.82h0M679.3,167.6h0M680,167.73h0" fill="none" stroke="#e8141c" stroke-width="1.76" stroke-linecap="round"/>
<line x1="538.8" y1="199.3" x2="563.9" y2="199.3" stroke="#111" stroke-width="0.8"/>
<circle cx="551.3" cy="199.3" r="0.9" fill="#111"/>
<line x1="538.8" y1="213.3" x2="563.9" y2="213.3" stroke="#e8141c" stroke-width="0.8"/>
<circle cx="551.3" cy="213.3" r="0.9" fill="#e8141c"/>
<text x="569.4" y="203" font-size="10.8" textLength="92" lengthAdjust="spacingAndGlyphs">Substrate/Ta/Py/Pt</text>
<text x="569.4" y="217.2" font-size="10.8" textLength="90.9" lengthAdjust="spacingAndGlyphs">Pt/Py/Ta/substrate</text>
<rect x="530.3" y="18.3" width="141" height="112.8" fill="#fff" stroke="#7a7a7a" stroke-width="0.8"/>
<path d="M574.4,131.1 v-3.2 M618.5,131.1 v-3.2 M662.5,131.1 v-3.2 M530.3,37.4 h4.4 M530.3,74.9 h4.4 M530.3,112.4 h4.4" stroke="#9c9c9c" stroke-width="0.9" fill="none"/>
<text x="530.3" y="142.7" font-size="9.3" text-anchor="middle" textLength="5.3" lengthAdjust="spacingAndGlyphs">0</text>
<text x="574.4" y="142.7" font-size="9.3" text-anchor="middle" textLength="5.3" lengthAdjust="spacingAndGlyphs">5</text>
<text x="618.5" y="142.7" font-size="9.3" text-anchor="middle" textLength="10.2" lengthAdjust="spacingAndGlyphs">10</text>
<text x="662.5" y="142.7" font-size="9.3" text-anchor="middle" textLength="10.2" lengthAdjust="spacingAndGlyphs">15</text>
<text x="525.8" y="40.5" font-size="9.3" text-anchor="end" textLength="11.6" lengthAdjust="spacingAndGlyphs">0.1</text>
<text x="525.8" y="78" font-size="9.3" text-anchor="end" textLength="5.3" lengthAdjust="spacingAndGlyphs">0</text>
<text x="525.8" y="115.5" font-size="9.3" text-anchor="end" textLength="16" lengthAdjust="spacingAndGlyphs">−0.1</text>
<text x="564.5" y="154.7" font-size="10.8" textLength="72.9" lengthAdjust="spacingAndGlyphs">Delay time (ps)</text>
<text x="489.1" y="116.2" font-size="10.8" textLength="81.9" lengthAdjust="spacingAndGlyphs" transform="rotate(-90 489.1 116.2)">Difference signal</text>
<text x="500.4" y="87.5" font-size="10.8" textLength="26.6" lengthAdjust="spacingAndGlyphs" transform="rotate(-90 500.4 87.5)">(a.u.)</text>
<path d="M530,40.6 L530.56,62.94 L531.13,77.39 L531.69,91.74 L532.26,102.73 L532.82,110.48 L533.38,116.73 L533.95,120.69 L534.51,123.85 L535.08,126.28 L535.64,128.27 L536.2,128.66 L536.77,127.25 L537.33,125.07 L537.9,118.97 L538.46,111.4 L539.02,102.97 L539.59,93.48 L540.15,83.26 L540.72,73.17 L541.28,63.39 L541.84,55.26 L542.41,48.28 L542.97,41.64 L543.54,35.65 L544.1,30.3 L544.66,26.66 L545.23,24.28 L545.79,24.09 L546.36,25.16 L546.92,26.99 L547.48,29.91 L548.05,33.67 L548.61,37.78 L549.18,41.74 L549.74,45.6 L550.3,49.3 L550.87,52.91 L551.43,56.46 L552,59.98 L552.56,63.5 L553.12,67.04 L553.69,70.52 L554.25,73.89 L554.82,77.09 L555.38,80.15 L555.94,83.09 L556.51,85.84 L557.07,88.3 L557.64,90.6 L558.2,92.64 L558.76,94.14 L559.33,95.35 L559.89,96.13 L560.46,96.1 L561.02,95.6 L561.58,94.88 L562.15,93.49 L562.71,91.54 L563.28,89.5 L563.84,87.33 L564.4,84.99 L564.97,82.5 L565.53,79.84 L566.1,77.02 L566.66,73.85 L567.22,70.27 L567.79,66.55 L568.35,62.91 L568.92,59.41 L569.48,55.79 L570.04,52.21 L570.61,48.88 L571.17,45.99 L571.74,43.65 L572.3,41.6 L572.86,39.93 L573.43,38.78 L573.99,37.86 L574.56,37.19 L575.12,37.02 L575.68,37.53 L576.25,38.5 L576.81,39.83 L577.38,42.11 L577.94,44.73 L578.5,47.33 L579.07,50.11 L579.63,53 L580.2,55.92 L580.76,58.8 L581.32,61.61 L581.89,64.47 L582.45,67.34 L583.02,70.17 L583.58,72.9 L584.14,75.48 L584.71,77.86 L585.27,80.12 L585.84,82.24 L586.4,84.18 L586.96,85.91 L587.53,87.42 L588.09,88.67 L588.66,89.81 L589.22,90.55 L589.78,91.32 L590.35,91.4 L590.91,91.2 L591.48,90.38 L592.04,89.56 L592.6,88.15 L593.17,86.32 L593.73,84.21 L594.3,81.6 L594.86,79.17 L595.42,76.43 L595.99,73.72 L596.55,71.26 L597.12,69.35 L597.68,66.68 L598.24,64.43 L598.81,62.75 L599.37,60.86 L599.94,59.1 L600.5,57.69 L601.06,56.15 L601.63,54.82 L602.19,53.89 L602.76,52.64 L603.32,51.37 L603.88,50.61 L604.45,50.05 L605.01,50.25 L605.58,50.7 L606.14,51.71 L606.7,53.37 L607.27,53.81 L607.83,54.53 L608.4,56.33 L608.96,56.98 L609.52,58.75 L610.09,60.63 L610.65,63.15 L611.22,65.22 L611.78,67.2 L612.34,68.82 L612.91,70.06 L613.47,71.8 L614.04,72.9 L614.6,75.3 L615.16,76.14 L615.73,78.32 L616.29,79.92 L616.86,81.31 L617.42,82.69 L617.98,82.04 L618.55,83.44 L619.11,83.41 L619.68,82.66 L620.24,80.96 L620.8,80.71 L621.37,80.28 L621.93,77.55 L622.5,77.22 L623.06,76.33 L623.62,74.33 L624.19,73.67 L624.75,71.63 L625.32,70.24 L625.88,68.6 L626.44,67.69 L627.01,66.67 L627.57,66.43 L628.14,64.84 L628.7,64.12 L629.26,63.22 L629.83,61.94 L630.39,60.65 L630.96,61.3 L631.52,60.57 L632.08,60.6 L632.65,59.81 L633.21,59.22 L633.78,57.82 L634.34,56.32 L634.9,55.96 L635.47,56.4 L636.03,55.57 L636.6,56.02 L637.16,55.91 L637.72,56.05 L638.29,56.89 L638.85,55.54 L639.42,54.59 L639.98,56.87 L640.54,56.38 L641.11,59.11 L641.67,61.59 L642.24,63.83 L642.8,64.72 L643.36,67.03 L643.93,66.85 L644.49,67.88 L645.06,69.49 L645.62,71.22 L646.18,72.11 L646.75,73.32 L647.31,73.69 L647.88,74.66 L648.44,74.92 L649,75.9 L649.57,76.93 L650.13,77.08 L650.7,77.85 L651.26,77.62 L651.82,77.53 L652.39,77.22 L652.95,76.25 L653.52,75.74 L654.08,74.76 L654.64,74.6 L655.21,72.78 L655.77,71.76 L656.34,70.13 L656.9,69.23 L657.46,68.37 L658.03,66.93 L658.59,66.61 L659.16,66.35 L659.72,65.23 L660.28,63.9 L660.85,62.89 L661.41,61.16 L661.98,60.7 L662.54,60.63 L663.1,60.27 L663.67,59.22 L664.23,58.68 L664.8,58.58 L665.36,58.02 L665.92,57.05 L666.49,58.87 L667.05,59.17 L667.62,59.83 L668.18,58.89 L668.74,59.9 L669.31,59.21 L669.87,60.25 L670.44,60.71 L671,62.52" fill="none" stroke="#cfcfcf" stroke-width="0.6"/>
<path d="M530,40.6h0M530.56,62.94h0M531.13,77.39h0M531.69,91.74h0M532.26,102.73h0M532.82,110.48h0M533.38,116.73h0M533.95,120.69h0M534.51,123.85h0M535.08,126.28h0M535.64,128.27h0M536.2,128.66h0M536.77,127.25h0M537.33,125.07h0M537.9,118.97h0M538.46,111.4h0M539.02,102.97h0M539.59,93.48h0M540.15,83.26h0M540.72,73.17h0M541.28,63.39h0M541.84,55.26h0M542.41,48.28h0M542.97,41.64h0M543.54,35.65h0M544.1,30.3h0M544.66,26.66h0M545.23,24.28h0M545.79,24.09h0M546.36,25.16h0M546.92,26.99h0M547.48,29.91h0M548.05,33.67h0M548.61,37.78h0M549.18,41.74h0M549.74,45.6h0M550.3,49.3h0M550.87,52.91h0M551.43,56.46h0M552,59.98h0M552.56,63.5h0M553.12,67.04h0M553.69,70.52h0M554.25,73.89h0M554.82,77.09h0M555.38,80.15h0M555.94,83.09h0M556.51,85.84h0M557.07,88.3h0M557.64,90.6h0M558.2,92.64h0M558.76,94.14h0M559.33,95.35h0M559.89,96.13h0M560.46,96.1h0M561.02,95.6h0M561.58,94.88h0M562.15,93.49h0M562.71,91.54h0M563.28,89.5h0M563.84,87.33h0M564.4,84.99h0M564.97,82.5h0M565.53,79.84h0M566.1,77.02h0M566.66,73.85h0M567.22,70.27h0M567.79,66.55h0M568.35,62.91h0M568.92,59.41h0M569.48,55.79h0M570.04,52.21h0M570.61,48.88h0M571.17,45.99h0M571.74,43.65h0M572.3,41.6h0M572.86,39.93h0M573.43,38.78h0M573.99,37.86h0M574.56,37.19h0M575.12,37.02h0M575.68,37.53h0M576.25,38.5h0M576.81,39.83h0M577.38,42.11h0M577.94,44.73h0M578.5,47.33h0M579.07,50.11h0M579.63,53h0M580.2,55.92h0M580.76,58.8h0M581.32,61.61h0M581.89,64.47h0M582.45,67.34h0M583.02,70.17h0M583.58,72.9h0M584.14,75.48h0M584.71,77.86h0M585.27,80.12h0M585.84,82.24h0M586.4,84.18h0M586.96,85.91h0M587.53,87.42h0M588.09,88.67h0M588.66,89.81h0M589.22,90.55h0M589.78,91.32h0M590.35,91.4h0M590.91,91.2h0M591.48,90.38h0M592.04,89.56h0M592.6,88.15h0M593.17,86.32h0M593.73,84.21h0M594.3,81.6h0M594.86,79.17h0M595.42,76.43h0M595.99,73.72h0M596.55,71.26h0M597.12,69.35h0M597.68,66.68h0M598.24,64.43h0M598.81,62.75h0M599.37,60.86h0M599.94,59.1h0M600.5,57.69h0M601.06,56.15h0M601.63,54.82h0M602.19,53.89h0M602.76,52.64h0M603.32,51.37h0M603.88,50.61h0M604.45,50.05h0M605.01,50.25h0M605.58,50.7h0M606.14,51.71h0M606.7,53.37h0M607.27,53.81h0M607.83,54.53h0M608.4,56.33h0M608.96,56.98h0M609.52,58.75h0M610.09,60.63h0M610.65,63.15h0M611.22,65.22h0M611.78,67.2h0M612.34,68.82h0M612.91,70.06h0M613.47,71.8h0M614.04,72.9h0M614.6,75.3h0M615.16,76.14h0M615.73,78.32h0M616.29,79.92h0M616.86,81.31h0M617.42,82.69h0M617.98,82.04h0M618.55,83.44h0M619.11,83.41h0M619.68,82.66h0M620.24,80.96h0M620.8,80.71h0M621.37,80.28h0M621.93,77.55h0M622.5,77.22h0M623.06,76.33h0M623.62,74.33h0M624.19,73.67h0M624.75,71.63h0M625.32,70.24h0M625.88,68.6h0M626.44,67.69h0M627.01,66.67h0M627.57,66.43h0M628.14,64.84h0M628.7,64.12h0M629.26,63.22h0M629.83,61.94h0M630.39,60.65h0M630.96,61.3h0M631.52,60.57h0M632.08,60.6h0M632.65,59.81h0M633.21,59.22h0M633.78,57.82h0M634.34,56.32h0M634.9,55.96h0M635.47,56.4h0M636.03,55.57h0M636.6,56.02h0M637.16,55.91h0M637.72,56.05h0M638.29,56.89h0M638.85,55.54h0M639.42,54.59h0M639.98,56.87h0M640.54,56.38h0M641.11,59.11h0M641.67,61.59h0M642.24,63.83h0M642.8,64.72h0M643.36,67.03h0M643.93,66.85h0M644.49,67.88h0M645.06,69.49h0M645.62,71.22h0M646.18,72.11h0M646.75,73.32h0M647.31,73.69h0M647.88,74.66h0M648.44,74.92h0M649,75.9h0M649.57,76.93h0M650.13,77.08h0M650.7,77.85h0M651.26,77.62h0M651.82,77.53h0M652.39,77.22h0M652.95,76.25h0M653.52,75.74h0M654.08,74.76h0M654.64,74.6h0M655.21,72.78h0M655.77,71.76h0M656.34,70.13h0M656.9,69.23h0M657.46,68.37h0M658.03,66.93h0M658.59,66.61h0M659.16,66.35h0M659.72,65.23h0M660.28,63.9h0M660.85,62.89h0M661.41,61.16h0M661.98,60.7h0M662.54,60.63h0M663.1,60.27h0M663.67,59.22h0M664.23,58.68h0M664.8,58.58h0M665.36,58.02h0M665.92,57.05h0M666.49,58.87h0M667.05,59.17h0M667.62,59.83h0M668.18,58.89h0M668.74,59.9h0M669.31,59.21h0M669.87,60.25h0M670.44,60.71h0M671,62.52h0" fill="none" stroke="#111" stroke-width="1.45" stroke-linecap="round"/>
<line x1="599.2" y1="32.7" x2="617.0" y2="32.7" stroke="#d8d8d8" stroke-width="0.7"/>
<circle cx="608.3" cy="32.7" r="0.8" fill="#111"/>
<text x="621.4" y="36" font-size="10.8" textLength="45.9" lengthAdjust="spacingAndGlyphs">Py (9 nm)</text>
</g>
</svg>
</body>
</html>
